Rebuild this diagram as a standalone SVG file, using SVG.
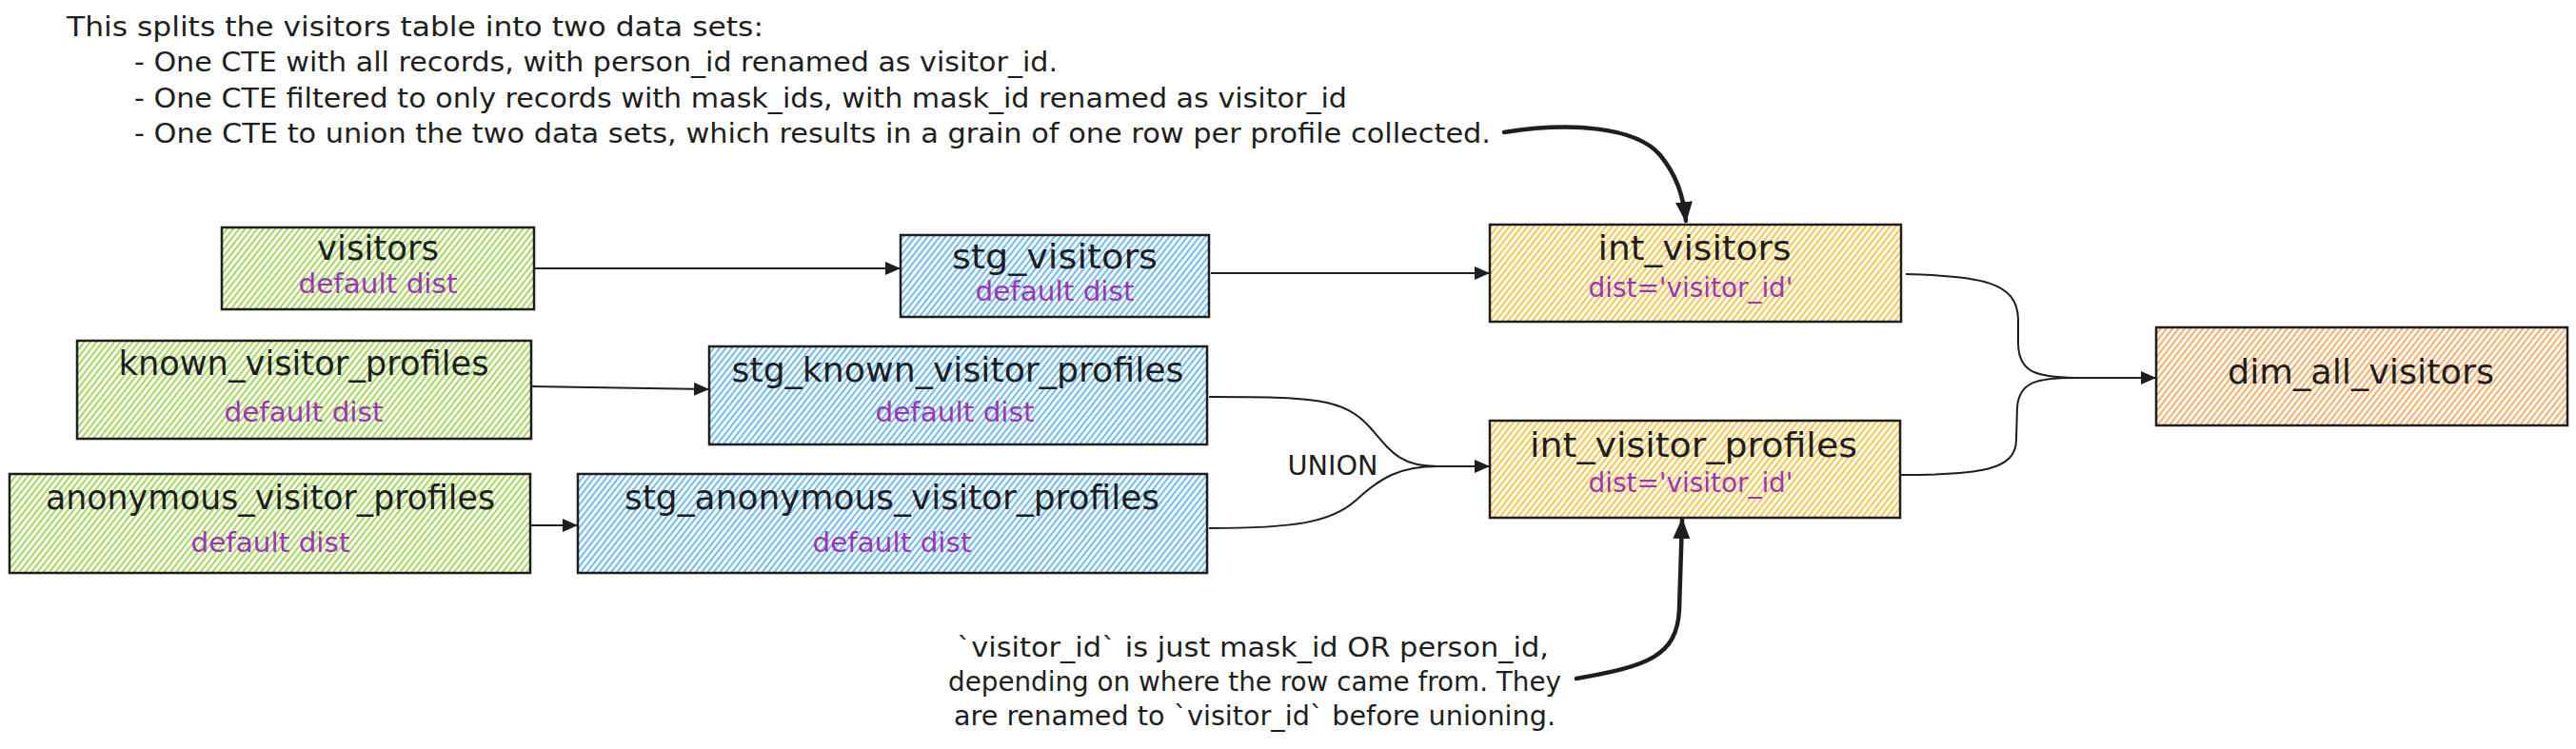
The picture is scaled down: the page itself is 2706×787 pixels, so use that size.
<svg xmlns="http://www.w3.org/2000/svg" width="2706" height="787" viewBox="0 0 2706 787">
<style>
.box{stroke:#1e1e1e;stroke-width:2.5}
.t{font-family:"DejaVu Sans","Liberation Sans",sans-serif;fill:#1e1e1e}
.title{font-size:36px;text-anchor:middle}
.sub{font-size:28px;text-anchor:middle;fill:#9c36b5}
.note{font-size:28px}
.c{fill:none;stroke:#1e1e1e;stroke-width:2}
.ct{fill:none;stroke:#1e1e1e;stroke-width:4.5;stroke-linecap:round}
</style>
<defs>
<pattern id="hg" patternUnits="userSpaceOnUse" width="5" height="10" patternTransform="rotate(38)"><rect width="5" height="10" fill="#fff"/><line x1="1" y1="0" x2="1" y2="10" stroke="#82c91e" stroke-width="1.6" stroke-opacity="0.9"/></pattern>
<pattern id="hb" patternUnits="userSpaceOnUse" width="5" height="10" patternTransform="rotate(38)"><rect width="5" height="10" fill="#fff"/><line x1="1" y1="0" x2="1" y2="10" stroke="#4dabf7" stroke-width="1.6" stroke-opacity="1"/></pattern>
<pattern id="hy" patternUnits="userSpaceOnUse" width="5" height="10" patternTransform="rotate(38)"><rect width="5" height="10" fill="#fff"/><line x1="1" y1="0" x2="1" y2="10" stroke="#fab005" stroke-width="1.6" stroke-opacity="0.9"/></pattern>
<pattern id="ho" patternUnits="userSpaceOnUse" width="5" height="10" patternTransform="rotate(38)"><rect width="5" height="10" fill="#fff"/><line x1="1" y1="0" x2="1" y2="10" stroke="#fd7e14" stroke-width="1.6" stroke-opacity="0.8"/></pattern>
<marker id="ah" markerUnits="userSpaceOnUse" markerWidth="16" markerHeight="14" refX="15" refY="7" orient="auto"><path d="M0,0 L16,7 L0,14 z" fill="#1e1e1e"/></marker>
<marker id="ahb" markerUnits="userSpaceOnUse" markerWidth="22" markerHeight="18" refX="20" refY="9" orient="auto"><path d="M0,0 L22,9 L0,18 z" fill="#1e1e1e"/></marker>
</defs>

<g id="notes">
<text class="t note" x="70" y="38" textLength="732" lengthAdjust="spacingAndGlyphs">This splits the visitors table into two data sets:</text>
<text class="t note" x="141" y="75" textLength="970" lengthAdjust="spacingAndGlyphs">- One CTE with all records, with person_id renamed as visitor_id.</text>
<text class="t note" x="141" y="113" textLength="1274" lengthAdjust="spacingAndGlyphs">- One CTE filtered to only records with mask_ids, with mask_id renamed as visitor_id</text>
<text class="t note" x="141" y="150" textLength="1425" lengthAdjust="spacingAndGlyphs">- One CTE to union the two data sets, which results in a grain of one row per profile collected.</text>
<g text-anchor="middle">
<text class="t note" x="1316" y="690" textLength="622" lengthAdjust="spacingAndGlyphs">`visitor_id` is just mask_id OR person_id,</text>
<text class="t note" x="1318" y="726" textLength="644" lengthAdjust="spacingAndGlyphs">depending on where the row came from. They</text>
<text class="t note" x="1318" y="762" textLength="632" lengthAdjust="spacingAndGlyphs">are renamed to `visitor_id` before unioning.</text>
</g>
<text class="t note" x="1400" y="499" text-anchor="middle" textLength="95" lengthAdjust="spacingAndGlyphs">UNION</text>
</g>

<g id="connectors">
<path class="c" d="M562,282 L945,282" marker-end="url(#ah)"/>
<path class="c" d="M557,406 L744,409" marker-end="url(#ah)"/>
<path class="c" d="M558,552 L606,552" marker-end="url(#ah)"/>
<path class="c" d="M1272,287 L1564,287" marker-end="url(#ah)"/>
<path class="c" d="M1270,417 C1380,417 1412,418 1440,450 C1462,476 1472,490 1510,490 L1564,490" marker-end="url(#ah)"/>
<path class="c" d="M1270,555 C1360,555 1398,549 1424,526 C1450,502 1470,490 1510,490"/>
<path class="c" d="M2002,288 C2080,290 2119,296 2120,335 L2120,362 C2121,392 2140,396 2180,397 L2264,397" marker-end="url(#ah)"/>
<path class="c" d="M1997,499 C2080,499 2118,494 2118,462 L2119,428 C2121,401 2140,397 2180,397"/>
<path class="ct" d="M1580,139 C1650,128 1718,133 1744,163 C1760,183 1768,203 1771,232" marker-end="url(#ahb)"/>
<path class="ct" d="M1656,713 C1730,700 1762,690 1764,640 L1767,546" marker-end="url(#ahb)"/>
</g>

<g id="visitors">
<rect class="box" x="233" y="239" width="328" height="86" fill="url(#hg)"/>
<text class="t title" x="397" y="273" textLength="128" lengthAdjust="spacingAndGlyphs">visitors</text>
<text class="t sub" x="397" y="308" textLength="167" lengthAdjust="spacingAndGlyphs">default dist</text>
</g>
<g id="stg_visitors">
<rect class="box" x="946" y="247" width="324" height="86" fill="url(#hb)"/>
<text class="t title" x="1108" y="282" textLength="216" lengthAdjust="spacingAndGlyphs">stg_visitors</text>
<text class="t sub" x="1108" y="316" textLength="167" lengthAdjust="spacingAndGlyphs">default dist</text>
</g>
<g id="known_visitor_profiles">
<rect class="box" x="81" y="358" width="477" height="103" fill="url(#hg)"/>
<text class="t title" x="319" y="394" textLength="389" lengthAdjust="spacingAndGlyphs">known_visitor_profiles</text>
<text class="t sub" x="319" y="443" textLength="167" lengthAdjust="spacingAndGlyphs">default dist</text>
</g>
<g id="stg_known_visitor_profiles">
<rect class="box" x="745" y="364" width="523" height="103" fill="url(#hb)"/>
<text class="t title" x="1006" y="401" textLength="475" lengthAdjust="spacingAndGlyphs">stg_known_visitor_profiles</text>
<text class="t sub" x="1003" y="443" textLength="167" lengthAdjust="spacingAndGlyphs">default dist</text>
</g>
<g id="anonymous_visitor_profiles">
<rect class="box" x="10" y="498" width="547" height="104" fill="url(#hg)"/>
<text class="t title" x="284" y="535" textLength="472" lengthAdjust="spacingAndGlyphs">anonymous_visitor_profiles</text>
<text class="t sub" x="284" y="580" textLength="167" lengthAdjust="spacingAndGlyphs">default dist</text>
</g>
<g id="stg_anonymous_visitor_profiles">
<rect class="box" x="607" y="498" width="661" height="104" fill="url(#hb)"/>
<text class="t title" x="937" y="535" textLength="562" lengthAdjust="spacingAndGlyphs">stg_anonymous_visitor_profiles</text>
<text class="t sub" x="937" y="580" textLength="167" lengthAdjust="spacingAndGlyphs">default dist</text>
</g>
<g id="int_visitors">
<rect class="box" x="1565" y="236" width="432" height="102" fill="url(#hy)"/>
<text class="t title" x="1780" y="273" textLength="203" lengthAdjust="spacingAndGlyphs">int_visitors</text>
<text class="t sub" x="1776" y="312" textLength="215" lengthAdjust="spacingAndGlyphs">dist='visitor_id'</text>
</g>
<g id="int_visitor_profiles">
<rect class="box" x="1565" y="442" width="431" height="102" fill="url(#hy)"/>
<text class="t title" x="1779" y="480" textLength="344" lengthAdjust="spacingAndGlyphs">int_visitor_profiles</text>
<text class="t sub" x="1776" y="517" textLength="215" lengthAdjust="spacingAndGlyphs">dist='visitor_id'</text>
</g>
<g id="dim_all_visitors">
<rect class="box" x="2265" y="344" width="432" height="103" fill="url(#ho)"/>
<text class="t title" x="2480" y="403" textLength="280" lengthAdjust="spacingAndGlyphs">dim_all_visitors</text>
</g>
</svg>
